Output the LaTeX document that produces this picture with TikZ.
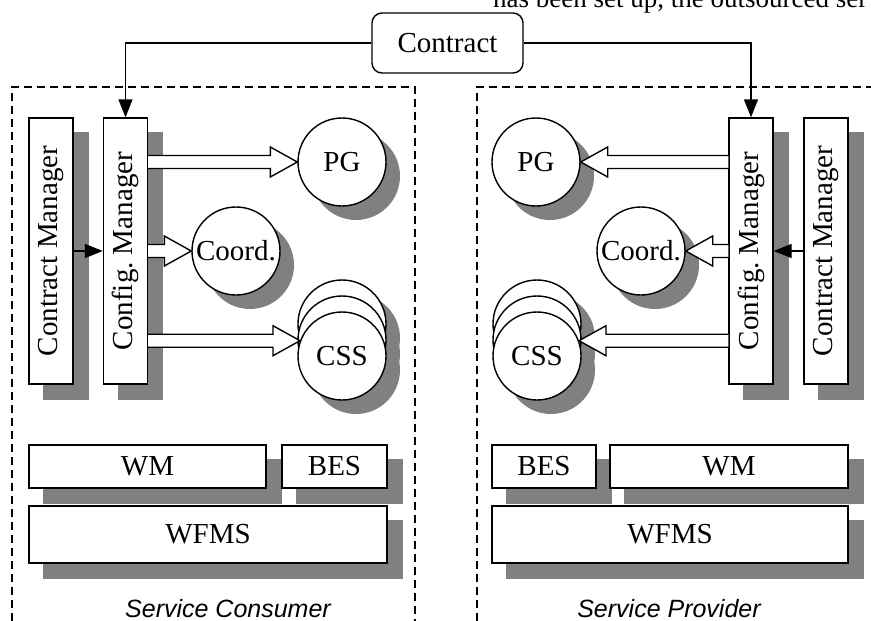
\documentclass[tikz,border=0pt]{standalone}
\usepackage{fontspec}
\setmainfont{Liberation Serif}
\newfontfamily\labelfont{Liberation Sans}
\usetikzlibrary{calc,arrows.meta}
\pgfdeclarelayer{background}
\pgfsetlayers{background,main}
\definecolor{shadowgray}{RGB}{128,128,128}
\tikzset{
  base/.style={draw=black, line width=1.4pt, fill=white, inner sep=0pt, font=\fontsize{29}{31}\selectfont},
  box/.style={base, rectangle},
  vbox/.style={box, minimum width=44pt, minimum height=266pt},
  hbox/.style={box, minimum height=43pt},
  wbox/.style={box, minimum height=57pt},
  circ/.style={base, circle, minimum size=88pt},
  panel/.style={draw, dash pattern=on 8pt off 5pt, line width=1.6pt},
  link/.style={line width=1.4pt, -{Triangle[length=18pt,width=14pt]}},
  harrow/.style={draw=black, fill=white, line width=1.4pt, line join=miter},
  caption/.style={font=\labelfont\itshape\fontsize{25}{27}\selectfont, inner sep=0pt, anchor=base},
  pagetext/.style={font=\fontsize{27}{29}\selectfont, inner sep=0pt, anchor=base west}
}
\newcommand\hollowarrow[2]{%
  \draw[harrow] let \p1=(#1), \p2=(#2), \n1={(\x2>\x1) ? 1 : -1} in
    (\x1,{\y2+6.5pt}) -- ({\x2-\n1*27pt},{\y2+6.5pt}) -- ({\x2-\n1*27pt},{\y2+15pt})
    -- (\x2,\y2) -- ({\x2-\n1*27pt},{\y2-15pt}) -- ({\x2-\n1*27pt},{\y2-6.5pt}) -- (\x1,{\y2-6.5pt});}

\begin{document}
\begin{tikzpicture}[x=1pt,y=-1pt]
\useasboundingbox (0,0) rectangle (871,621);

% cut-off line of page text
\node[pagetext] (toptext) at (493,7) {has been set up, the outsourced ser};

% panels
\draw[panel] (12,621) |- (415,87) -- (415,621);
\draw[panel] (477,621) |- (871,87);

% contract
\node[box, rounded corners=10pt, minimum width=151pt, minimum height=60pt] (contract) at (447.5,43) {Contract};

% ---- service consumer ----
\node[vbox] (cmL) at (51,251) {\rotatebox{90}{Contract Manager}};
\node[vbox] (cfL) at (125.5,251) {\rotatebox{90}{Config.\ Manager}};
\node[circ] (pgL) at (342,162) {PG};
\node[circ] (coL) at (236,251) {Coord.};
\node[circ] (cssL3) at (342,324) {};
\node[circ] (cssL2) at (342,340) {};
\node[circ] (cssL) at (342,356) {CSS};
\node[hbox, minimum width=237pt] (wmL) at (147.5,466.5) {WM};
\node[hbox, minimum width=105pt] (besL) at (334.5,466.5) {BES};
\node[wbox, minimum width=358pt] (wfL) at (208,534.5) {WFMS};
\node[caption] (consumer) at (228,617) {Service Consumer};

% ---- service provider ----
\node[vbox] (cfR) at (751,251) {\rotatebox{90}{Config.\ Manager}};
\node[vbox] (cmR) at (826,251) {\rotatebox{90}{Contract Manager}};
\node[circ] (pgR) at (536,162) {PG};
\node[circ] (coR) at (641,251) {Coord.};
\node[circ] (cssR3) at (537,324) {};
\node[circ] (cssR2) at (537,340) {};
\node[circ] (cssR) at (537,356) {CSS};
\node[hbox, minimum width=104pt] (besR) at (544,466.5) {BES};
\node[hbox, minimum width=238pt] (wmR) at (729,466.5) {WM};
\node[wbox, minimum width=356pt] (wfR) at (670,534.5) {WFMS};
\node[caption] (provider) at (669,617) {Service Provider};

% shadows
\begin{pgfonlayer}{background}
  \foreach \n in {cmL,cfL,cmR,cfR,wmL,besL,wfL,wmR,besR,wfR}
    \fill[shadowgray] ($(\n.north west)+(15,15)$) rectangle ($(\n.south east)+(15,15)$);
  \foreach \n in {pgL,coL,cssL,cssL2,cssL3,pgR,coR,cssR,cssR2,cssR3}
    \fill[shadowgray] ($(\n.center)+(14,14)$) circle[radius=44];
\end{pgfonlayer}

% connectors
\draw[link] (contract.west) -| (cfL.north);
\draw[link] (contract.east) -| (cfR.north);
\draw[link] (cmL.east) -- (cfL.west);
\draw[link] (cmR.west) -- (cfR.east);

\hollowarrow{cfL.east}{pgL.west}
\hollowarrow{cfL.east}{coL.west}
\hollowarrow{cfL.east}{cssL.160}
\hollowarrow{cfR.west}{pgR.east}
\hollowarrow{cfR.west}{coR.east}
\hollowarrow{cfR.west}{cssR.20}
\end{tikzpicture}
\end{document}
